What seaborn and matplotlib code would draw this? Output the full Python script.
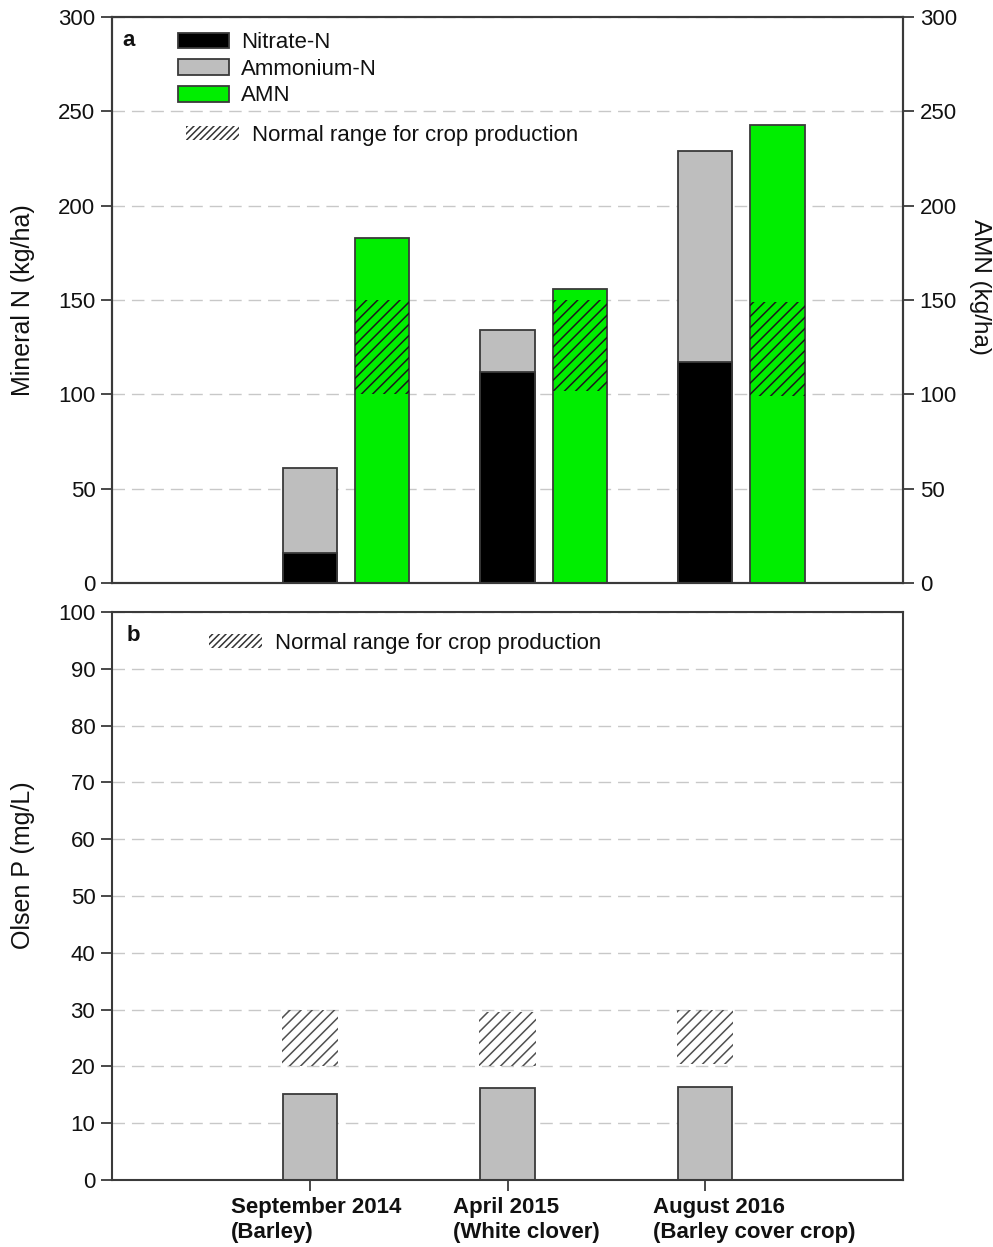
import numpy as np
import matplotlib
matplotlib.use("Agg")
import matplotlib.pyplot as plt
import matplotlib.transforms as mtransforms
from matplotlib.patches import Patch
import seaborn as sns

sns.set_style("ticks")
plt.rcParams['font.family'] = ['Liberation Sans', 'DejaVu Sans']
plt.rcParams['hatch.linewidth'] = 1.1
plt.rcParams['text.color'] = '#111111'
plt.rcParams['axes.labelcolor'] = '#111111'
plt.rcParams['xtick.labelcolor'] = '#111111'
plt.rcParams['ytick.labelcolor'] = '#111111'

# data
DATES = ["September 2014\n(Barley)", "April 2015\n(White clover)",
         "August 2016\n(Barley cover crop)"]
NITRATE = [16, 112, 117]
AMMONIUM = [45, 22, 112]
AMN = [183, 156, 243]
AMN_LO = [100, 102, 99]
AMN_HI = [150, 150, 149]
OLSEN_P = [15.2, 16.2, 16.4]
P_LO = [20, 20, 20.5]
P_HI = [30, 29.5, 30]

BLACK = '#000000'
GRAY = '#bebebe'
GREEN = '#00ee00'
EDGE = '#3a3a3a'
GRID = '#c8c8c8'
FS = 16

pos = np.arange(len(DATES)).astype(float)
amn_pos = pos + 0.365
BW = 0.274
total = np.array(NITRATE) + np.array(AMMONIUM)

fig = plt.figure(figsize=(9.93, 12.47), dpi=100)
ax = fig.add_axes([0.1128, 0.5325, 0.7966, 0.4539])
ax2 = ax.twinx()
axb = fig.add_axes([0.1128, 0.0537, 0.7966, 0.4555])

bar_kw = dict(native_scale=True, width=BW, saturation=1, errorbar=None,
              edgecolor=EDGE, linewidth=1.3)

# panel a: stacked mineral N + AMN
sns.barplot(x=pos, y=total, color=GRAY, ax=ax, **bar_kw)
sns.barplot(x=pos, y=NITRATE, color=BLACK, ax=ax, **bar_kw)
sns.barplot(x=amn_pos, y=AMN, color=GREEN, ax=ax2, **bar_kw)
ax2.bar(amn_pos, np.array(AMN_HI) - np.array(AMN_LO), bottom=AMN_LO, width=BW,
        fill=False, hatch='///', edgecolor='#1a1a1a', linewidth=0, zorder=3)

for a in (ax, ax2):
    a.set_ylim(0, 300)
    a.set_yticks(range(0, 301, 50))
    a.set_xlim(-1, 3)
ax.set_axisbelow(True)
ax.yaxis.grid(True, color=GRID, linestyle=(0, (9, 5)), linewidth=1)
ax.tick_params(axis='x', bottom=False, labelbottom=False)
ax2.tick_params(axis='x', bottom=False, labelbottom=False)
ax.tick_params(axis='y', direction='out', length=8, width=1.3, color=EDGE,
               labelsize=FS, pad=4)
ax2.tick_params(axis='y', direction='out', length=8, width=1.3, color=EDGE,
                labelsize=FS, pad=4)
ax.set_xlabel('')
ax2.set_xlabel('')
ax.set_ylabel('Mineral N (kg/ha)', fontsize=18)
ax.yaxis.set_label_coords(-0.097, 0.5)
ax2.set_ylabel('AMN (kg/ha)', fontsize=17.5, rotation=270, va='bottom')
ax2.yaxis.set_label_coords(1.083, 0.523)

ax.text(0.013, 0.958, 'a', transform=ax.transAxes, fontsize=16,
        fontweight='bold', va='center', ha='left')

handles = [Patch(facecolor=BLACK, edgecolor=EDGE, lw=1.3),
           Patch(facecolor=GRAY, edgecolor=EDGE, lw=1.3),
           Patch(facecolor=GREEN, edgecolor=EDGE, lw=1.3)]
leg1 = ax2.legend(handles, ['Nitrate-N', 'Ammonium-N', 'AMN'], loc='upper left',
                  bbox_to_anchor=(0.083, 0.973), frameon=False, fontsize=FS,
                  borderpad=0, borderaxespad=0, handlelength=2.3,
                  handleheight=0.72, handletextpad=0.55, labelspacing=0.25)
ax2.add_artist(leg1)
hatch_handle = Patch(facecolor='none', edgecolor='#333333', hatch='/////', lw=0)
ax2.legend([hatch_handle], ['Normal range for crop production'], loc='upper left',
           bbox_to_anchor=(0.094, 0.81), frameon=False, fontsize=FS,
           borderpad=0, borderaxespad=0, handlelength=2.35, handleheight=0.6,
           handletextpad=0.6)

# panel b: Olsen P
sns.barplot(x=pos, y=OLSEN_P, color=GRAY, ax=axb, **bar_kw)
axb.bar(pos, np.array(P_HI) - np.array(P_LO), bottom=P_LO, width=BW + 0.01,
        fill=False, hatch='///', edgecolor='#505050', linewidth=0, zorder=3)
axb.set_ylim(0, 100)
axb.set_yticks(range(0, 101, 10))
axb.set_xlim(-1, 3)
axb.set_axisbelow(True)
axb.yaxis.grid(True, color=GRID, linestyle=(0, (9, 5)), linewidth=1)
axb.set_xticks(pos)
axb.set_xticklabels([])
axb.tick_params(axis='both', direction='out', length=8, width=1.3, color=EDGE,
                labelsize=FS, pad=4)
axb.set_xlabel('')
axb.set_ylabel('Olsen P (mg/L)', fontsize=18)
axb.yaxis.set_label_coords(-0.097, 0.555)

label_shift_px = [6, 19, 49]
for x, lab, dx in zip(pos, DATES, label_shift_px):
    tr = axb.get_xaxis_transform() + mtransforms.ScaledTranslation(
        dx / 100, -17 / 100, fig.dpi_scale_trans)
    axb.text(x, 0, lab, transform=tr, ha='center', va='top', ma='left',
             fontsize=FS, fontweight='bold', linespacing=1.25)

axb.text(0.019, 0.958, 'b', transform=axb.transAxes, fontsize=16,
         fontweight='bold', va='center', ha='left')
axb.legend([hatch_handle], ['Normal range for crop production'], loc='upper left',
           bbox_to_anchor=(0.123, 0.963), frameon=False, fontsize=FS,
           borderpad=0, borderaxespad=0, handlelength=2.35, handleheight=0.6,
           handletextpad=0.6)

for a in (ax, ax2, axb):
    for s in a.spines.values():
        s.set_color(EDGE)
        s.set_linewidth(1.5)

fig.savefig('out.png', dpi=100)
